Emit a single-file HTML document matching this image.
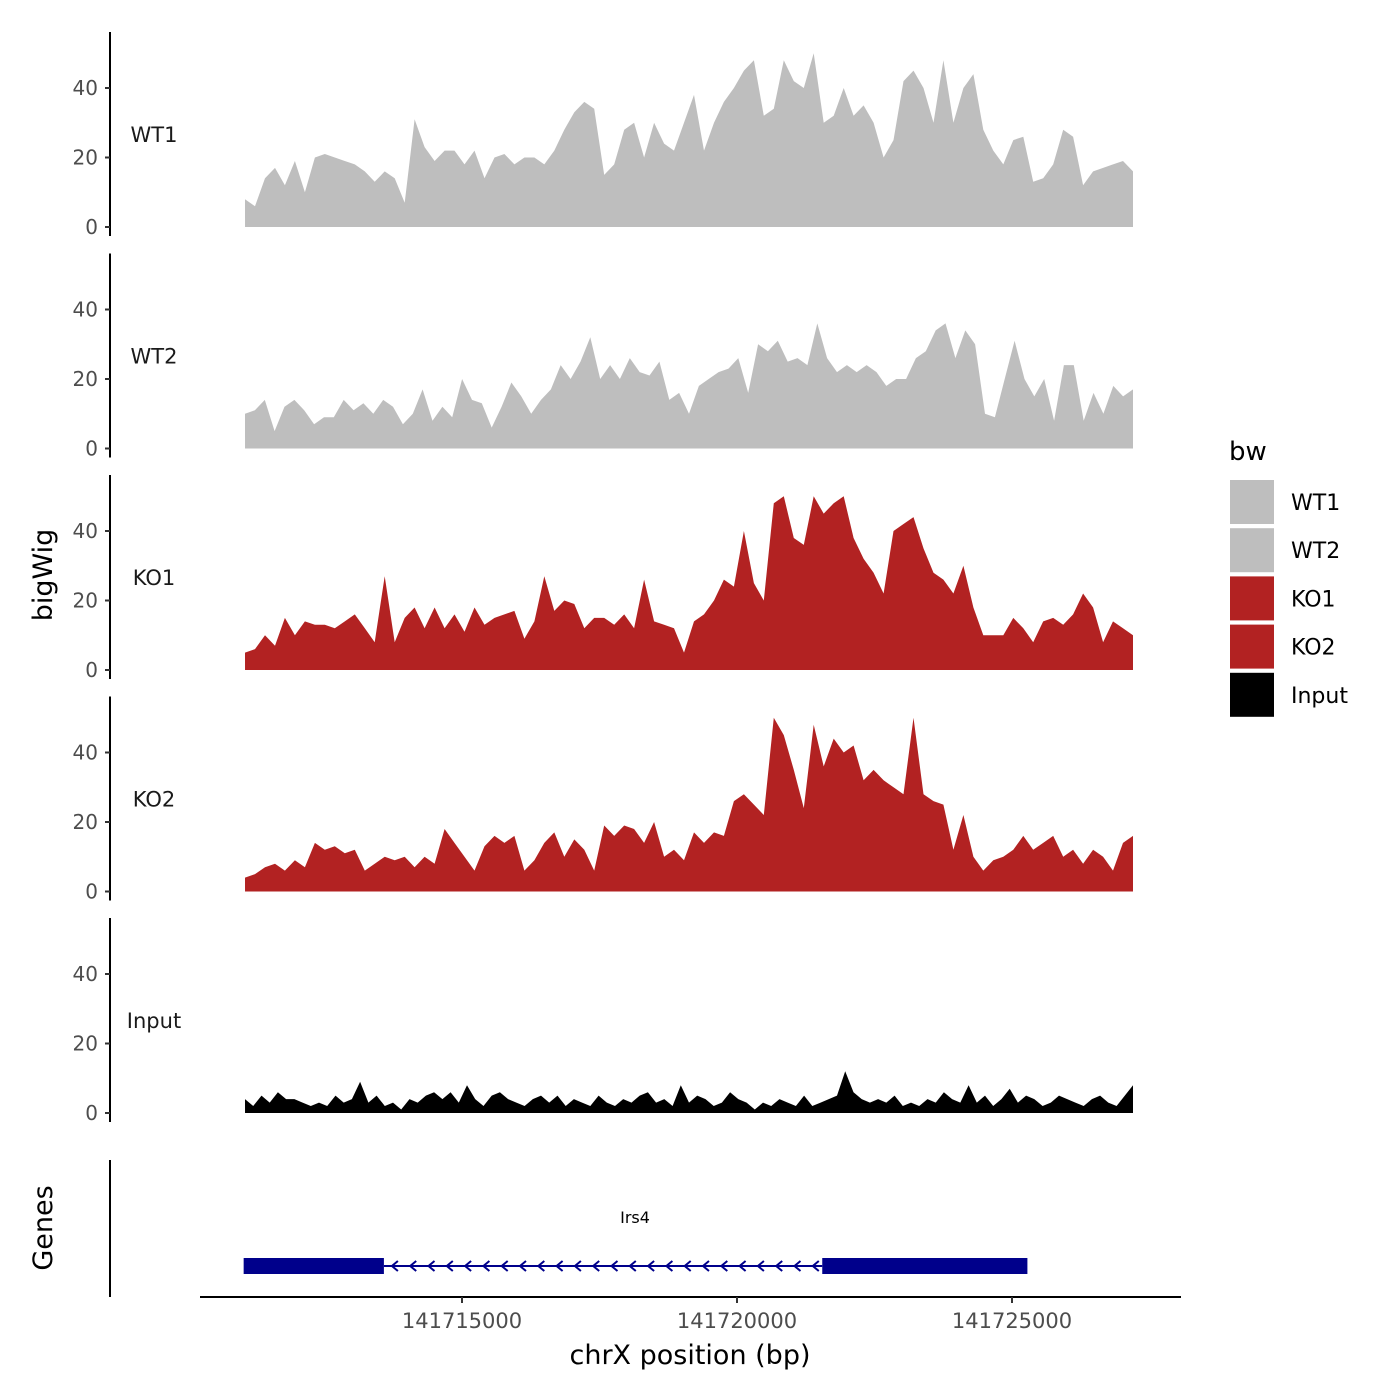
<!DOCTYPE html>
<html><head><meta charset="utf-8"><style>
body{margin:0;background:#fff;}
svg{display:block;font-family:"DejaVu Sans","Liberation Sans",sans-serif;}
</style></head><body>
<svg id="chart" width="1400" height="1400" viewBox="0 0 1400 1400" xmlns="http://www.w3.org/2000/svg">
<rect width="1400" height="1400" fill="#fff"/>
<g id="tracks"></g>
<g id="genes"></g>
<g id="axes"></g>
<g id="legend"></g>
</svg>
<script>
const trackNames = ["WT1","WT2","KO1","KO2","Input"];
const trackColors = ["#bebebe","#bebebe","#b22222","#b22222","#000000"];
const yTicks = [0,20,40];
const xTicks = [141715000,141720000,141725000];
const wt1 = [8,6,14,17,12,19,10,20,21,20,19,18,16,13,16,14,7,31,23,19,22,22,18,22,14,20,21,18,20,20,18,22,28,33,36,34,15,18,28,30,20,30,24,22,30,38,22,30,36,40,45,48,32,34,48,42,40,50,30,32,40,32,35,30,20,25,42,45,40,30,48,30,40,44,28,22,18,25,26,13,14,18,28,26,12,16,17,18,19,16];
const wt2 = [10,11,14,5,12,14,11,7,9,9,14,11,13,10,14,12,7,10,17,8,12,9,20,14,13,6,12,19,15,10,14,17,24,20,25,32,20,24,20,26,22,21,25,14,16,10,18,20,22,23,26,16,30,28,31,25,26,24,36,26,22,24,22,24,22,18,20,20,26,28,34,36,26,34,30,10,9,20,31,20,15,20,8,24,24,8,16,10,18,15,17];
const ko1 = [5,6,10,7,15,10,14,13,13,12,14,16,12,8,27,8,15,18,12,18,12,16,11,18,13,15,16,17,9,14,27,17,20,19,12,15,15,13,16,12,26,14,13,12,5,14,16,20,26,24,40,25,20,48,50,38,36,50,45,48,50,38,32,28,22,40,42,44,35,28,26,22,30,18,10,10,10,15,12,8,14,15,13,16,22,18,8,14,12,10];
const ko2 = [4,5,7,8,6,9,7,14,12,13,11,12,6,8,10,9,10,7,10,8,18,14,10,6,13,16,14,16,6,9,14,17,10,15,12,6,19,16,19,18,14,20,10,12,9,17,14,17,16,26,28,25,22,50,45,35,24,48,36,44,40,42,32,35,32,30,28,50,28,26,25,12,22,10,6,9,10,12,16,12,14,16,10,12,8,12,10,6,14,16];
const inputv = [4,2,5,3,6,4,4,3,2,3,2,5,3,4,9,3,5,2,3,1,4,3,5,6,4,6,3,8,4,2,5,6,4,3,2,4,5,3,5,2,4,3,2,5,3,2,4,3,5,6,3,4,2,8,3,5,4,2,3,6,4,3,1,3,2,4,3,2,5,2,3,4,5,12,6,4,3,4,3,5,2,3,2,4,3,6,4,3,8,3,5,2,4,7,3,5,4,2,3,5,4,3,2,4,5,3,2,5,8];
const series = [wt1,wt2,ko1,ko2,inputv];
const bpStart = 141711055, bpEnd = 141727200;
const geneExons = [[141711030,141713580],[141721550,141725280]];
const geneIntron = [141713580,141721550];

const NS="http://www.w3.org/2000/svg";
function mk(tag,attrs,parent){const e=document.createElementNS(NS,tag);for(const k in attrs)e.setAttribute(k,attrs[k]);parent.appendChild(e);return e;}
const xS = bp => 462 + (bp-141715000)*275/5000;
const zero = k => 227 + k*221.5;
const yS = (k,v) => zero(k) - v*139/40;
const tracks=document.getElementById('tracks'), axes=document.getElementById('axes'), legend=document.getElementById('legend'), genes=document.getElementById('genes');

series.forEach((vals,k)=>{
  const n=vals.length;
  let d="M"+xS(bpStart)+","+zero(k);
  vals.forEach((v,i)=>{const bp=bpStart+(bpEnd-bpStart)*i/(n-1);d+=" L"+xS(bp).toFixed(1)+","+yS(k,v).toFixed(1);});
  d+=" L"+xS(bpEnd)+","+zero(k)+" Z";
  const p=mk('path',{d:d,fill:trackColors[k]},tracks);
  
  
  const ax=mk('line',{x1:110,x2:110,y1:zero(k)-195,y2:zero(k)+9,stroke:'#000','stroke-width':2},axes);
  
  
  yTicks.forEach(t=>{
    const y=yS(k,t);
    const tl=mk('line',{x1:105,x2:110,y1:y,y2:y,stroke:'#333','stroke-width':2},axes);
    
    
    const tx=mk('text',{x:98,y:y+7,'text-anchor':'end','font-size':20,fill:'#4d4d4d'},axes);
    tx.textContent=t;
    
    
  });
  const lab=mk('text',{x:154,y:zero(k)-85,'text-anchor':'middle','font-size':21,fill:'#1a1a1a'},axes);
  lab.textContent=trackNames[k];
  
  
});

// genes
const gy=1266;
const intr=mk('line',{x1:xS(geneIntron[0]),x2:xS(geneIntron[1]),y1:gy,y2:gy,stroke:'#00008b','stroke-width':2},genes);


for(let x=xS(geneIntron[0])+8;x<xS(geneIntron[1])-4;x+=18.3){
  const c=mk('path',{d:`M${x+6},${gy-5} L${x},${gy} L${x+6},${gy+5}`,fill:'none',stroke:'#00008b','stroke-width':2},genes);
  
  
}
geneExons.forEach(e=>{
  const r=mk('rect',{x:xS(e[0]),y:gy-8,width:xS(e[1])-xS(e[0]),height:16,fill:'#00008b'},genes);
  
  
});
const gl=mk('text',{x:635,y:1223,'text-anchor':'middle','font-size':16,fill:'#000'},genes);
gl.textContent='Irs4';


const ga=mk('line',{x1:110,x2:110,y1:1160,y2:1297,stroke:'#000','stroke-width':2},axes);



// x axis
const xa=mk('line',{x1:200,x2:1181,y1:1297,y2:1297,stroke:'#000','stroke-width':2},axes);


xTicks.forEach(t=>{
  const x=xS(t);
  const tl=mk('line',{x1:x,x2:x,y1:1297,y2:1303,stroke:'#333','stroke-width':2},axes);
  
  
  const tx=mk('text',{x:x,y:1328,'text-anchor':'middle','font-size':21,fill:'#4d4d4d'},axes);
  tx.textContent=t;
  
  
});
const xt=mk('text',{x:690,y:1364,'text-anchor':'middle','font-size':27,fill:'#000'},axes);
xt.textContent='chrX position (bp)';


const yt=mk('text',{x:0,y:0,'text-anchor':'middle','font-size':27,fill:'#000',transform:'translate(52,575) rotate(-90)'},axes);
yt.textContent='bigWig';


const gt=mk('text',{x:0,y:0,'text-anchor':'middle','font-size':27,fill:'#000',transform:'translate(52,1228) rotate(-90)'},axes);
gt.textContent='Genes';



// legend
const lt=mk('text',{x:1229,y:460,'font-size':26,fill:'#000'},legend);
lt.textContent='bw';


trackNames.forEach((nm,i)=>{
  const y=480+i*48.2;
  const r=mk('rect',{x:1230,y:y,width:44,height:44,fill:trackColors[i]},legend);
  
  
  const t=mk('text',{x:1291,y:y+30,'font-size':22,fill:'#000'},legend);
  t.textContent=nm;
  
  
});
</script>
</body></html>
